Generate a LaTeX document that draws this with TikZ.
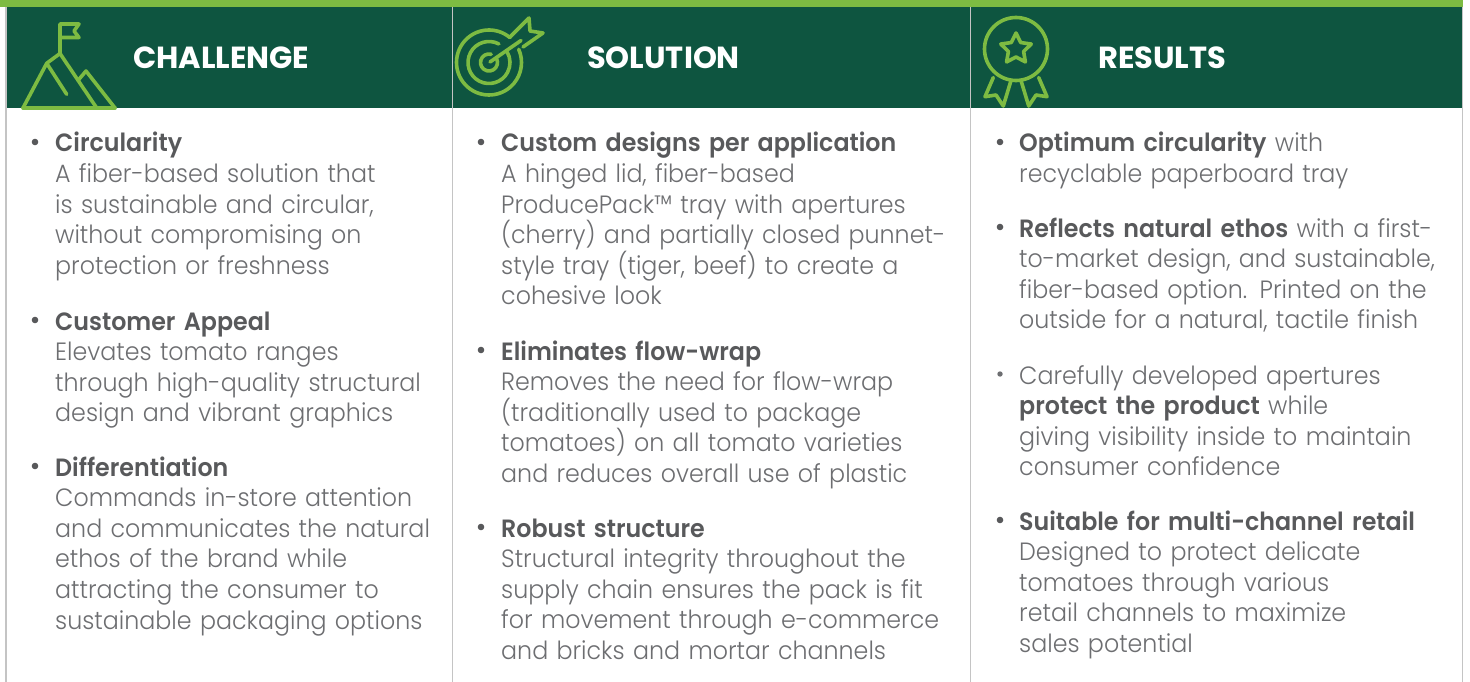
\documentclass[tikz,border=0pt]{standalone}
\usepackage{fontspec}
\setmainfont{Poppins Light}[BoldFont={Poppins SemiBold},FakeStretch=0.95]
\newfontfamily\hdfont{Poppins Bold}
\definecolor{dkgreen}{HTML}{0E5540}
\definecolor{ltgreen}{HTML}{7DBB42}
\definecolor{rulegray}{HTML}{C4C4C4}
\definecolor{txt}{HTML}{6D6E71}
\definecolor{hd}{HTML}{58595B}
\newcommand\hb[1]{{\color{hd}\bfseries #1}}
\begin{document}
\begin{tikzpicture}[x=1pt,y=-1pt,
  icon/.style={draw=ltgreen,line width=3.6pt,line cap=round,line join=round},
  vline/.style={draw=rulegray,line width=1.8pt},
  title/.style={anchor=base west,inner sep=0,text=white,font=\hdfont\fontsize{30.5}{30.5}\selectfont},
  item/.style={anchor=base west,inner sep=0,text width=480pt,align=left,text=txt,font=\fontsize{25}{30.6}\selectfont},
  bul/.style={circle,fill=hd,inner sep=0,minimum size=6.6pt},
  bullight/.style={circle,fill=txt,inner sep=0,minimum size=5.4pt}]
\useasboundingbox (0,0) rectangle (1470,682);
\fill[white] (0,0) rectangle (1470,682);
% header
\fill[ltgreen] (0,0) rectangle (1463,7.5);
\fill[dkgreen] (5,7.5) rectangle (1463,108);
\draw[vline] (6,7.5) -- (6,682);
\draw[vline] (452.5,7.5) -- (452.5,682);
\draw[vline] (970.5,7.5) -- (970.5,682);
\draw[vline] (1462.5,7.5) -- (1462.5,682);
% titles
\node[title] (tc) at (133,69) {CHALLENGE};
\node[title] (ts) at (587,69) {SOLUTION};
\node[title] (tr) at (1098,69) {RESULTS};
% mountain icon
\draw[icon] (23,108) -- (115,108);
\draw[icon] (23,108) -- (46.7,63.3) -- (60,53.5) -- (96.7,108);
\draw[icon] (46.7,63.3) -- (66.7,94.3);
\draw[icon] (78,80.5) -- (86,71) -- (115,108);
\draw[icon] (60,53.5) -- (60,24) -- (79,24) -- (74,31) -- (79,37.5) -- (60,37.5);
% target icon
\draw[icon] (489,62.5) ++(-50:32.5) arc[start angle=-50,end angle=-384,radius=32.5];
\draw[icon] (489,62.5) ++(-62:21) arc[start angle=-62,end angle=-390,radius=21];
\draw[icon] (489,62.5) ++(-75:8.5) arc[start angle=-75,end angle=-385,radius=8.5];
\draw[icon] (490,62) -- (521,40.5);
\draw[icon] (510,37) -- (529,18) -- (530,31) -- (543,33) -- (523,47);
% award icon
\draw[icon] (1016,49) circle[radius=31.5];
\draw[icon] (1016,49) +(-90:16) -- +(-126:8) -- +(-162:16) -- +(-198:8) -- +(-234:16)
  -- +(-270:8) -- +(-306:16) -- +(-342:8) -- +(-378:16) -- +(-414:8) -- cycle;
\draw[icon] (993.3,77.5) -- (985,96.7) -- (996,95) -- (1003.3,106) -- (1010.7,81.5);
\draw[icon] (1038.7,77.5) -- (1047,96.7) -- (1036,95) -- (1028.7,106) -- (1021.3,81.5);
% column 1
\node[bul] (bc1) at (35,142) {};
\node[item] (c1) at (55,152) {\hb{Circularity}\\A fiber-based solution that\\is sustainable and circular,\\without compromising on\\protection or freshness};
\node[bul] (bc2) at (35,320) {};
\node[item] (c2) at (55,330) {\hb{Customer Appeal}\\Elevates tomato ranges\\through high-quality structural\\design and vibrant graphics};
\node[bul] (bc3) at (35,466) {};
\node[item] (c3) at (55,476) {\hb{Differentiation}\\Commands in-store attention\\and communicates the natural\\ethos of the brand while\\attracting the consumer to\\sustainable packaging options};
% column 2
\node[bul] (bs1) at (481,142) {};
\node[item] (s1) at (501,152) {\hb{Custom designs per application}\\A hinged lid, fiber-based\\ProducePack™ tray with apertures\\(cherry) and partially closed punnet-\\style tray (tiger, beef) to create a\\cohesive look};
\node[bul] (bs2) at (481,350) {};
\node[item] (s2) at (501,360) {\hb{Eliminates flow-wrap}\\Removes the need for flow-wrap\\(traditionally used to package\\tomatoes) on all tomato varieties\\and reduces overall use of plastic};
\node[bul] (bs3) at (481,527) {};
\node[item] (s3) at (501,537) {\hb{Robust structure}\\Structural integrity throughout the\\supply chain ensures the pack is fit\\for movement through e-commerce\\and bricks and mortar channels};
% column 3
\node[bul] (br1) at (1000,142) {};
\node[item] (r1) at (1019,152) {\hb{Optimum circularity} with\\recyclable paperboard tray};
\node[bul] (br2) at (1000,227) {};
\node[item] (r2) at (1019,237) {\hb{Reflects natural ethos} with a first-\\to-market design, and sustainable,\\fiber-based option. Printed on the\\outside for a natural, tactile finish};
\node[bullight] (br3) at (1000,374) {};
\node[item] (r3) at (1019,384) {Carefully developed apertures\\\hb{protect the product} while\\giving visibility inside to maintain\\consumer confidence};
\node[bul] (br4) at (1000,520) {};
\node[item] (r4) at (1019,530) {\hb{Suitable for multi-channel retail}\\Designed to protect delicate\\tomatoes through various\\retail channels to maximize\\sales potential};
\end{tikzpicture}
\end{document}
